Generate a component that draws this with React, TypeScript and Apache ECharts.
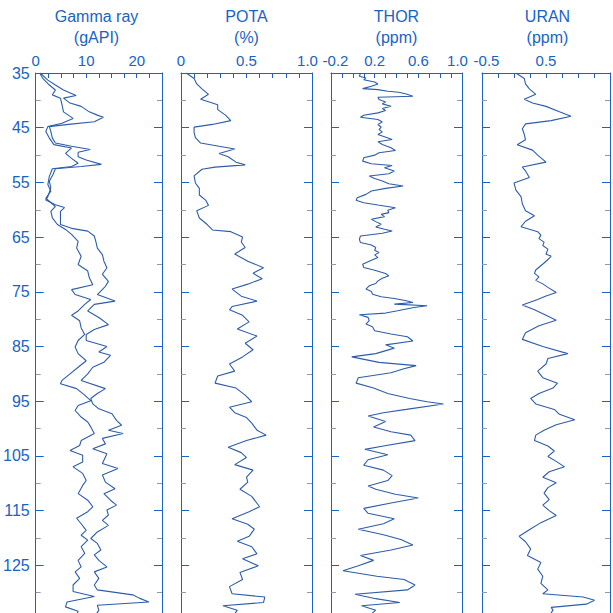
import React, { useEffect, useRef } from "react";
import * as echarts from "echarts";

const BLUE = "#1763c6";
const LINE = "#2d5cab";

// Track 1: Gamma ray (two curves)
const sgrDepth = [35.0,36.3,37.2,38.1,39.1,39.6,40.5,41.1,42.1,42.7,43.1,43.9,44.4,44.8,45.7,46.9,47.8,48.4,49.0,49.5,50.3,50.9,51.7,52.1,52.5,53.6,54.8,56.0,57.6,58.2,59.1,59.6,60.3,61.5,62.7,63.4,63.9,64.8,65.8,67.0,68.2,69.4,70.6,71.8,73.1,74.0,75.5,76.7,77.3,78.5,79.7,81.0,81.9,82.8,83.9,85.0,86.0,86.6,87.9,88.8,90.0,91.2,92.7,93.6,94.5,95.5,96.4,97.3,98.5,99.4,100.3,100.9,101.8,102.8,103.7,104.6,106.4,107.3,108.5,109.8,111.0,111.9,113.1,114.0,114.9,115.8,116.8,117.7,118.9,120.1,121.0,122.2,123.1,124.1,125.3,126.2,127.4,128.6,129.5,130.4,131.0,131.7,132.3,133.2,134.2];
const sgrValue = [0.9,2.4,3.9,5.5,8.0,5.5,6.8,9.0,10.6,12.2,13.4,11.6,6.5,2.7,3.0,3.3,3.9,7.1,10.8,8.4,8.4,10.0,13.0,9.0,3.9,3.4,2.7,3.0,2.4,2.0,3.9,5.7,4.9,4.9,4.9,7.1,10.3,11.6,11.9,12.2,13.2,13.5,14.1,13.2,14.4,13.8,12.2,15.7,11.6,10.3,12.5,14.4,11.6,10.0,10.0,14.1,12.5,14.8,13.5,11.3,10.3,9.0,13.8,12.2,10.9,11.3,12.5,15.1,16.0,17.0,14.4,17.3,13.2,13.8,11.3,14.1,13.2,16.3,13.2,13.8,15.7,13.5,14.8,16.0,14.1,14.4,13.2,14.4,12.2,10.9,12.2,12.9,11.6,12.5,14.1,11.6,12.5,11.6,12.2,19.2,20.5,22.4,12.2,12.5,11.8];

const cgrDepth = [35.0,36.0,37.2,38.1,39.0,39.6,40.8,42.1,43.3,44.2,44.8,45.7,46.9,48.1,48.7,49.7,50.6,51.5,52.1,52.5,53.9,55.4,56.6,57.9,59.4,60.3,61.5,62.7,63.6,64.5,65.8,67.0,68.5,70.0,71.2,72.4,73.7,74.6,75.5,76.4,77.3,78.5,79.3,80.3,81.6,82.8,83.9,85.1,86.3,87.6,88.8,90.0,91.2,91.8,92.7,93.9,94.9,95.8,96.7,97.9,98.8,99.7,100.9,102.2,103.1,104.0,104.9,106.1,107.0,108.2,109.5,110.4,111.9,113.1,114.3,115.2,116.4,117.4,118.6,119.5,120.4,121.6,122.8,124.1,125.3,126.2,127.4,128.6,129.8,130.7,131.7,132.6,133.4,134.2];
const cgrValue = [0.8,1.4,2.7,3.9,3.3,4.9,5.2,5.5,7.4,5.2,2.4,2.0,2.7,3.6,7.1,5.9,7.1,8.4,7.1,3.3,2.7,2.4,3.0,2.0,3.9,3.0,3.3,4.3,5.9,7.1,8.4,8.1,9.0,8.4,10.3,10.6,11.3,7.1,7.8,10.9,9.7,8.4,7.1,8.7,9.0,9.7,8.4,7.8,8.4,10.0,8.4,6.8,5.2,4.9,8.1,9.7,10.9,8.4,7.8,9.0,10.3,10.9,11.6,9.0,8.7,6.8,9.3,9.3,7.4,9.3,10.0,9.3,8.4,10.3,11.3,10.3,8.1,9.0,10.0,9.0,10.3,9.0,9.7,8.4,9.0,7.8,8.7,7.4,7.4,11.6,6.2,5.9,8.4,8.0];

// Track 2: POTA (%)
const potaDepth = [35.0,36.0,37.0,37.9,38.9,39.8,40.8,41.7,42.7,43.7,44.4,44.9,45.9,46.8,47.8,48.4,48.9,49.7,50.3,51.3,51.8,52.2,52.6,53.8,55.1,56.1,57.3,58.3,59.2,60.2,61.5,62.7,63.7,64.0,65.0,65.9,66.9,68.1,69.4,70.6,71.6,72.6,73.6,74.5,75.8,76.7,77.7,78.3,79.3,80.5,81.8,83.1,84.4,85.6,86.9,88.2,89.5,90.4,91.7,92.6,93.9,95.1,96.1,97.1,98.0,99.0,100.3,101.2,102.2,103.4,104.4,105.3,106.6,107.6,108.9,109.8,111.1,112.4,114.3,115.2,116.5,117.5,118.4,119.7,120.6,121.6,122.9,123.8,125.1,126.3,127.6,128.9,130.2,130.8,131.8,132.4,133.2,134.2];
const potaValue = [0.04,0.10,0.12,0.16,0.21,0.15,0.28,0.28,0.34,0.38,0.24,0.10,0.10,0.11,0.15,0.29,0.41,0.29,0.36,0.42,0.49,0.26,0.16,0.10,0.11,0.14,0.14,0.19,0.21,0.12,0.14,0.20,0.24,0.38,0.47,0.46,0.49,0.41,0.51,0.63,0.55,0.62,0.51,0.39,0.46,0.58,0.39,0.37,0.47,0.52,0.43,0.58,0.49,0.55,0.47,0.37,0.41,0.28,0.26,0.42,0.49,0.54,0.37,0.41,0.50,0.54,0.58,0.65,0.50,0.36,0.46,0.50,0.41,0.55,0.50,0.51,0.45,0.54,0.60,0.52,0.39,0.51,0.56,0.52,0.43,0.54,0.58,0.47,0.59,0.45,0.47,0.37,0.39,0.64,0.63,0.32,0.43,0.40];

// Track 3: THOR (ppm)
const thorDepth = [35.00,35.61,35.91,36.22,36.64,37.01,37.43,37.86,38.04,38.34,38.53,38.83,39.26,39.44,39.86,40.29,40.65,41.08,41.50,41.87,42.29,42.72,43.09,43.51,43.94,44.42,44.91,45.33,45.76,46.25,46.67,47.16,47.58,48.07,48.68,49.16,49.59,50.02,50.50,51.11,51.60,51.90,52.33,52.93,53.42,53.84,54.27,54.76,55.24,55.67,56.09,56.58,57.19,57.80,58.28,58.71,59.13,59.62,60.11,60.53,60.84,61.26,61.75,62.17,62.66,63.15,63.57,63.88,64.30,64.79,65.40,66.00,66.43,66.91,67.40,67.83,68.25,68.74,69.22,69.95,70.56,71.05,71.66,72.08,72.51,73.00,73.48,73.91,74.51,74.94,75.43,75.91,76.22,76.64,76.95,77.25,77.55,77.86,78.47,78.89,79.19,79.68,80.29,80.90,81.38,82.11,82.72,83.21,84.0,84.7,85.3,86.3,86.9,87.9,88.5,89.1,89.8,90.7,91.7,92.6,93.6,94.5,95.1,95.5,96.5,97.1,97.7,98.7,99.7,100.6,101.2,102.2,103.2,103.8,104.8,105.7,106.7,107.6,108.6,109.5,110.5,111.1,112.0,112.7,113.6,114.6,115.5,116.5,117.4,118.4,119.4,120.3,121.3,122.2,123.2,124.1,125.1,126.0,127.0,127.6,128.6,129.5,130.3,131.1,131.8,132.4,133.2,134.2];
const thorValue = [0.07,0.06,0.12,0.10,0.20,0.23,0.17,0.09,0.23,0.32,0.42,0.49,0.55,0.23,0.24,0.30,0.27,0.35,0.27,0.30,0.23,0.10,0.07,0.23,0.27,0.23,0.26,0.24,0.27,0.23,0.29,0.36,0.23,0.27,0.35,0.39,0.24,0.20,0.10,0.09,0.17,0.36,0.29,0.38,0.33,0.15,0.20,0.27,0.33,0.46,0.30,0.17,0.12,0.04,0.03,0.10,0.23,0.39,0.32,0.33,0.26,0.29,0.17,0.21,0.26,0.21,0.29,0.36,0.27,0.07,0.06,0.07,0.17,0.21,0.20,0.24,0.20,0.23,0.17,0.09,0.10,0.20,0.30,0.33,0.27,0.23,0.21,0.15,0.12,0.17,0.18,0.26,0.38,0.49,0.55,0.38,0.68,0.56,0.41,0.30,0.06,0.14,0.15,0.12,0.18,0.20,0.35,0.50,0.55,0.30,0.38,0.21,-0.01,0.24,0.58,0.46,0.35,0.05,0.03,0.19,0.32,0.52,0.68,0.83,0.49,0.28,0.14,0.30,0.19,0.35,0.53,0.57,0.28,0.11,0.32,0.14,0.10,0.28,0.36,0.32,0.14,0.21,0.39,0.60,0.35,0.10,0.14,0.38,0.28,0.05,0.28,0.44,0.55,0.35,0.07,0.19,0.05,-0.09,0.22,0.47,0.57,0.50,0.02,0.21,0.43,0.08,0.21,0.15];

// Track 4: URAN (ppm)
const uranDepth = [35.0,36.0,37.0,37.9,38.9,39.8,40.5,41.1,42.1,42.9,43.7,44.3,45.2,46.2,47.2,48.1,49.1,50.0,51.3,52.2,52.9,54.1,55.1,56.4,57.6,58.9,60.2,61.1,62.1,63.1,64.01,64.64,65.28,65.92,66.55,67.19,68.14,68.46,69.10,69.73,71.01,71.64,72.28,72.91,73.55,74.19,75.14,75.78,76.42,77.4,78.3,79.3,80.2,81.2,82.5,83.7,85.0,86.3,87.2,88.2,89.5,90.7,91.7,92.6,93.6,94.5,95.5,96.5,97.4,98.4,99.3,100.3,101.2,102.2,103.2,104.1,105.1,106.0,107.0,107.9,108.9,109.9,110.8,111.8,113.0,114.0,115.0,115.9,117.2,118.5,119.7,120.7,122.0,123.2,124.5,125.7,127.0,128.3,129.5,130.2,130.8,131.4,132.1,132.7,133.2,134.2];
const uranValue = [0.03,0.16,0.18,0.24,0.34,0.16,0.29,0.50,0.71,0.89,0.58,0.18,0.13,0.16,0.18,0.05,0.29,0.37,0.50,0.13,0.18,0.24,0.00,0.03,0.11,0.13,0.18,0.32,0.18,0.11,0.37,0.42,0.39,0.47,0.45,0.53,0.50,0.58,0.53,0.47,0.34,0.32,0.39,0.34,0.45,0.53,0.66,0.50,0.37,0.13,0.32,0.50,0.66,0.39,0.18,0.13,0.45,0.84,0.53,0.50,0.37,0.45,0.68,0.61,0.39,0.26,0.34,0.63,0.71,0.95,0.66,0.47,0.34,0.32,0.53,0.63,0.53,0.66,0.79,0.55,0.45,0.66,0.53,0.47,0.55,0.45,0.55,0.66,0.42,0.24,0.08,0.18,0.26,0.21,0.42,0.37,0.45,0.42,0.53,0.45,1.08,1.26,1.13,0.58,0.61,0.55];

const trackTitleTop = ["Gamma ray", "POTA", "THOR", "URAN"];
const trackTitleUnit = ["(gAPI)", "(%)", "(ppm)", "(ppm)"];
const trackMin = [0, 0, -0.2, -0.5];
const trackMax = [25, 1, 1, 1.5];
const trackStep = [2.5, 0.1, 0.1, 0.25];
const trackLabelValues = [[0, 10, 20], [0, 0.5, 1], [-0.2, 0.2, 0.6, 1], [-0.5, 0.5]];
const trackLabelTexts = [["0", "10", "20"], ["0", "0.5", "1.0"], ["-0.2", "0.2", "0.6", "1.0"], ["-0.5", "0.5"]];

const depthMin = 35;
const depthMax = 135;
const depthStep = 10;

const gridLeft = [31, 181, 331, 482];
const gridWidth = [131, 131, 131, 129];
const GRID_TOP = 73;
const GRID_HEIGHT = 547;

function zip(vals: number[], depths: number[]) {
  return vals.map((v, i) => [v, depths[i]]);
}

export default function App() {
  const ref = useRef<HTMLDivElement>(null);
  useEffect(() => {
    if (!ref.current) return;
    const chart = echarts.init(ref.current, undefined, { renderer: "svg" });
    const font = "Liberation Sans, Arial, Helvetica, sans-serif";
    const labelRich = {
      c: { fontSize: 15, fontFamily: font, color: BLUE },
      r: { fontSize: 15, fontFamily: font, color: BLUE, padding: [0, 9, 0, 0] },
      l: { fontSize: 15, fontFamily: font, color: BLUE, padding: [0, 0, 0, 9] },
    };

    const grid = gridLeft.map((l, i) => ({
      left: l,
      top: GRID_TOP,
      width: gridWidth[i],
      height: GRID_HEIGHT,
      containLabel: false,
    }));

    const xAxis = trackMin.map((mn, i) => ({
      type: "value",
      gridIndex: i,
      position: "top",
      min: mn,
      max: trackMax[i],
      interval: trackStep[i],
      splitLine: { show: false },
      axisLine: { show: true, lineStyle: { color: BLUE, width: 1 } },
      axisTick: { show: true, inside: true, length: 5, lineStyle: { color: BLUE, width: 1 } },
      axisLabel: {
        show: true,
        margin: 5,
        fontSize: 15,
        fontFamily: font,
        color: BLUE,
        showMinLabel: true,
        showMaxLabel: true,
        rich: labelRich,
        formatter: (v: number) => {
          const vals = trackLabelValues[i];
          const idx = vals.findIndex((x) => Math.abs(x - v) < 1e-6);
          if (idx < 0) return "";
          const t = trackLabelTexts[i][idx];
          if (i > 0 && idx === vals.length - 1 && Math.abs(v - trackMax[i]) < 1e-6) return `{r|${t}}`;
          if (i > 1 && idx === 0) return `{l|${t}}`;
          return `{c|${t}}`;
        },
      },
    }));

    const yAxis: any[] = [];
    gridLeft.forEach((_, i) => {
      ["left", "right"].forEach((pos) => {
        yAxis.push({
          type: "value",
          gridIndex: i,
          position: pos,
          inverse: true,
          min: depthMin,
          max: depthMax,
          interval: depthStep,
          splitLine: { show: false },
          axisLine: { show: true, onZero: false, lineStyle: { color: BLUE, width: 1 } },
          axisTick: { show: true, inside: true, length: 8, lineStyle: { color: BLUE, width: 1 } },
          minorTick: { show: true, splitNumber: 2, length: 5, lineStyle: { color: "#8a9bb5", width: 1 } },
          axisLabel: {
            show: i === 0 && pos === "left",
            showMaxLabel: false,
            margin: 6,
            fontSize: 16,
            fontFamily: font,
            color: BLUE,
            padding: [5, 0, 0, 0],
          },
        });
      });
    });

    const mk = (vals: number[], depths: number[], track: number) => ({
      type: "line",
      xAxisIndex: track,
      yAxisIndex: track * 2,
      data: zip(vals, depths),
      symbol: "none",
      showSymbol: false,
      silent: true,
      lineStyle: { color: LINE, width: 1.1 },
    });

    const graphic: any[] = [];
    gridLeft.forEach((l, i) => {
      const cx = l + 131 / 2;
      graphic.push({
        type: "text",
        x: cx,
        y: 16,
        style: { text: trackTitleTop[i], fill: BLUE, font: `16px ${font}`, align: "center", verticalAlign: "middle" },
      });
      graphic.push({
        type: "text",
        x: cx,
        y: 37,
        style: { text: trackTitleUnit[i], fill: BLUE, font: `16px ${font}`, align: "center", verticalAlign: "middle" },
      });
    });

    chart.setOption({
      animation: false,
      backgroundColor: "#ffffff",
      grid,
      xAxis,
      yAxis,
      graphic,
      series: [
        mk(sgrValue, sgrDepth, 0),
        mk(cgrValue, cgrDepth, 0),
        mk(potaValue, potaDepth, 1),
        mk(thorValue, thorDepth, 2),
        mk(uranValue, uranDepth, 3),
      ],
    });
    return () => chart.dispose();
  }, []);
  return (
    <div
      ref={ref}
      style={{ position: "fixed", left: 0, top: 0, width: 613, height: 700, background: "#fff" }}
    />
  );
}
